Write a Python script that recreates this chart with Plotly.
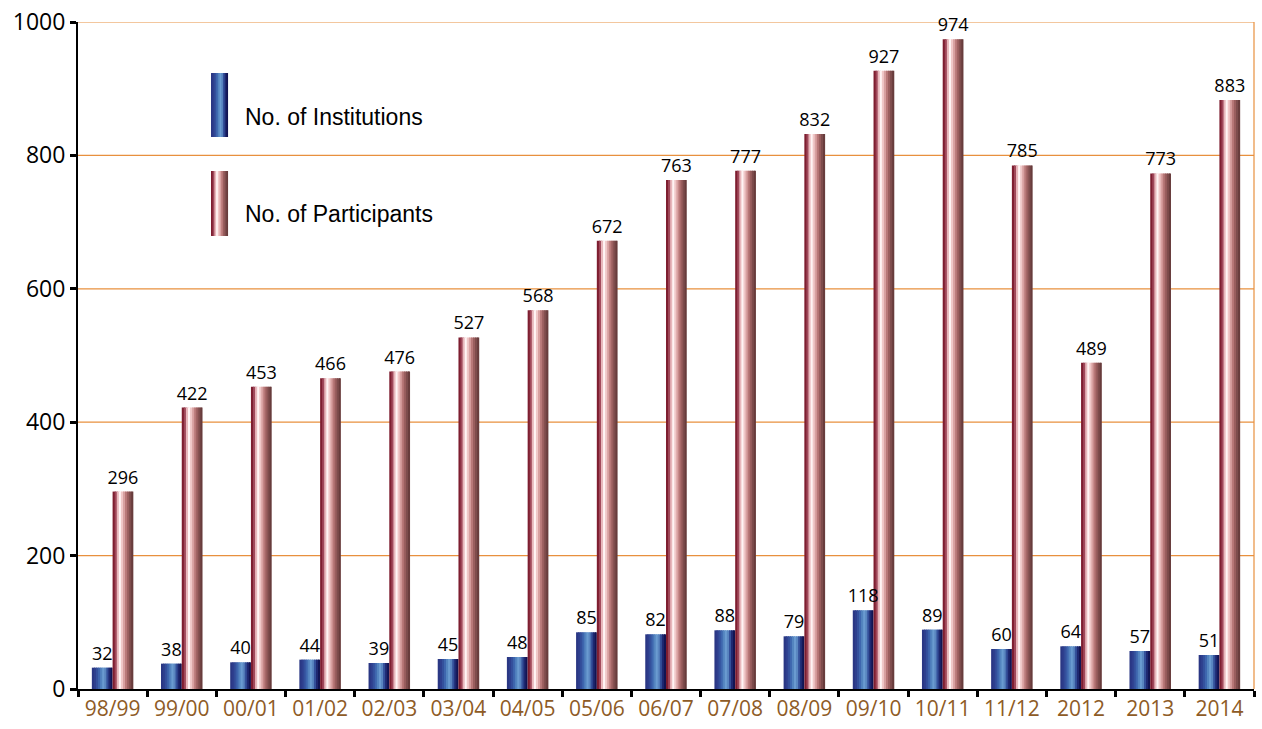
import plotly.graph_objects as go

# ---- data ----
periods = ["98/99", "99/00", "00/01", "01/02", "02/03", "03/04", "04/05", "05/06",
           "06/07", "07/08", "08/09", "09/10", "10/11", "11/12", "2012", "2013", "2014"]
institutions = [32, 38, 40, 44, 39, 45, 48, 85, 82, 88, 79, 118, 89, 60, 64, 57, 51]
participants = [296, 422, 453, 466, 476, 527, 568, 672, 763, 777, 832, 927, 974, 785, 489, 773, 883]
y_ticks = [0, 200, 400, 600, 800, 1000]
series_names = ["No. of Institutions", "No. of Participants"]

# ---- style ----
blue_stripes = ["#2a3784", "#2e3f8e", "#34509c", "#3e66ae", "#5384bf",
                "#6a9bd0", "#5a86c0", "#34509a", "#1e2870", "#121452"]
red_stripes = ["#7e1e30", "#a0485a", "#e8b8bc", "#fff4f4", "#f0c8c8",
               "#d8a0a0", "#b87878", "#9a5e5e", "#7e4c4c", "#683c3c"]
BAR_W = 0.3
GRID = "#E8903E"
TICK_BROWN = "#8E5B26"
NUM_FONT = "Open Sans"

fig = go.Figure()


def add_gradient_bar(values, stripes, start, name):
    n = len(stripes)
    step = BAR_W / n
    for i, col in enumerate(stripes):
        w = step * 1.6 if i < n - 1 else step
        fig.add_trace(go.Bar(
            x=periods, y=values, offset=start + i * step, width=w,
            marker=dict(color=col, line=dict(width=0)),
            showlegend=False, hoverinfo="skip", name=name,
        ))


def add_labels(values, start, name):
    # transparent carrier for the value labels
    fig.add_trace(go.Bar(
        x=periods, y=values, offset=start, width=BAR_W,
        marker=dict(color="rgba(0,0,0,0)", line=dict(width=0)),
        text=[str(v) for v in values], textposition="outside",
        constraintext="none", cliponaxis=False,
        textfont=dict(family=NUM_FONT, size=18, color="black"),
        showlegend=False, name=name,
        hovertemplate="%{x}: %{y}<extra>" + name + "</extra>",
    ))


add_gradient_bar(institutions, blue_stripes, -BAR_W, series_names[0])
add_gradient_bar(participants, red_stripes, 0.0, series_names[1])
add_labels(institutions, -BAR_W, series_names[0])
add_labels(participants, 0.0, series_names[1])

# ---- gridlines (orange) as shapes at the tick values ----
shapes = []
for v in y_ticks[1:]:
    shapes.append(dict(type="line", xref="paper", yref="y", x0=0, x1=1, y0=v, y1=v,
                       line=dict(color=GRID, width=1.2), layer="below"))
# right border of plot area
shapes.append(dict(type="line", xref="paper", yref="paper", x0=1, x1=1, y0=0, y1=1,
                   line=dict(color=GRID, width=1.2), layer="below"))

# ---- legend (custom tall swatches) ----
sw_x0, sw_x1 = 0.1131, 0.1276
legend_rows = [(series_names[0], blue_stripes, 0.9235, 0.8276, 0.8576),
               (series_names[1], red_stripes, 0.7766, 0.6792, 0.7121)]
annotations = []
for label, stripes, ytop, ybot, ytext in legend_rows:
    n = len(stripes)
    dx = (sw_x1 - sw_x0) / n
    for i, col in enumerate(stripes):
        x1 = sw_x0 + (i + 1) * dx + (dx * 0.6 if i < n - 1 else 0)
        shapes.append(dict(type="rect", xref="paper", yref="paper",
                           x0=sw_x0 + i * dx, x1=x1, y0=ybot, y1=ytop,
                           fillcolor=col, line=dict(width=0), layer="above"))
    annotations.append(dict(xref="paper", yref="paper", x=0.1403, y=ytext,
                            xanchor="left", yanchor="middle", showarrow=False,
                            text=label,
                            font=dict(family="Liberation Sans, Arial", size=23, color="black")))

fig.update_layout(
    width=1262, height=729,
    margin=dict(l=78, r=8, t=22, b=40, autoexpand=False),
    paper_bgcolor="white", plot_bgcolor="white",
    barmode="overlay",
    showlegend=False,
    shapes=shapes,
    annotations=annotations,
    xaxis=dict(
        type="category", showline=True, linecolor="black", linewidth=2,
        ticks="outside", tickson="boundaries", ticklen=6, tickwidth=3, tickcolor="black",
        tickfont=dict(family=NUM_FONT, size=21, color=TICK_BROWN),
        showgrid=False, zeroline=False, automargin=False,
    ),
    yaxis=dict(
        range=[0, 1000], tickvals=y_ticks, showline=True, linecolor="black", linewidth=2,
        ticks="outside", ticklen=6, tickwidth=3, tickcolor="black",
        tickfont=dict(family=NUM_FONT, size=23, color="black"),
        showgrid=False, zeroline=False, automargin=False,
    ),
)

fig.write_html(
    "out.html",
    config={"displayModeBar": False},
    post_script="document.body.style.margin='0';document.body.style.overflow='hidden';",
)
